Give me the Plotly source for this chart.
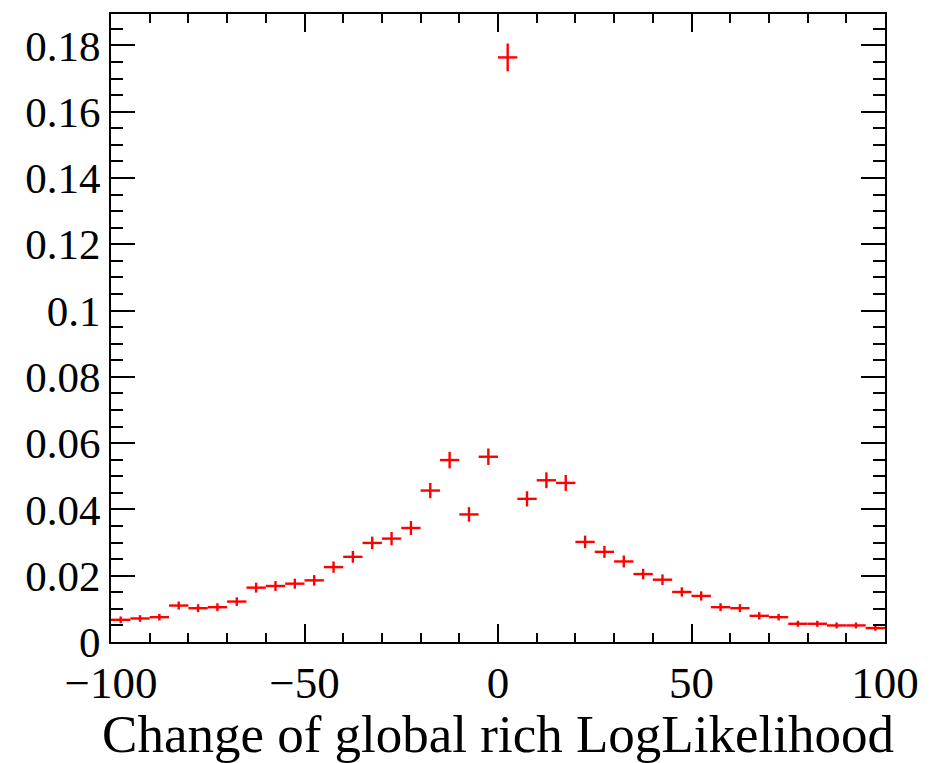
import plotly.graph_objects as go

bin_centers = [-97.5 + 5 * i for i in range(40)]
bin_half_width = [2.5] * 40
values = [0.0067, 0.0071, 0.0075, 0.0110, 0.0102, 0.0105, 0.0122, 0.0164, 0.0169, 0.0176,
          0.0186, 0.0226, 0.0257, 0.0299, 0.0312, 0.0344, 0.0457, 0.0549, 0.0385, 0.0559,
          0.1764, 0.0432, 0.0488, 0.0480, 0.0302, 0.0272, 0.0243, 0.0205, 0.0188, 0.0151,
          0.0139, 0.0105, 0.0102, 0.0079, 0.0075, 0.0055, 0.0055, 0.0050, 0.0050, 0.0042]
errors = [0.0010, 0.0010, 0.0010, 0.0012, 0.0012, 0.0012, 0.0013, 0.0015, 0.0015, 0.0015,
          0.0016, 0.0017, 0.0018, 0.0019, 0.0020, 0.0021, 0.0023, 0.0025, 0.0022, 0.0025,
          0.0042, 0.0023, 0.0024, 0.0024, 0.0019, 0.0018, 0.0018, 0.0016, 0.0016, 0.0014,
          0.0014, 0.0012, 0.0012, 0.0011, 0.0010, 0.0009, 0.0009, 0.0009, 0.0009, 0.0008]

x_title = "Change of global rich LogLikelihood"

fig = go.Figure()
fig.add_trace(go.Scatter(
    x=bin_centers, y=values, mode="markers",
    marker=dict(size=0.1, color="#ff0000"),
    error_x=dict(type="data", array=bin_half_width, symmetric=True, width=0,
                 thickness=2.4, color="#ff0000"),
    error_y=dict(type="data", array=errors, symmetric=True, width=0,
                 thickness=2.4, color="#ff0000"),
    showlegend=False,
))

font_family = "Liberation Serif"
fig.update_layout(
    width=931, height=763,
    margin=dict(l=111, r=44, t=12, b=111),
    paper_bgcolor="white", plot_bgcolor="white",
    font=dict(family=font_family, color="black"),
)
fig.update_xaxes(
    range=[-100, 100], showgrid=False, zeroline=False,
    showline=True, linewidth=2, linecolor="black", mirror="allticks",
    ticks="inside", ticklen=18, tickwidth=2, tickcolor="black",
    tick0=-100, dtick=50,
    minor=dict(dtick=10, ticks="inside", ticklen=9, tickwidth=2, tickcolor="black"),
    tickfont=dict(size=45, family=font_family),
    title=dict(text=x_title, font=dict(size=53, family=font_family), standoff=6),
)
fig.update_yaxes(
    range=[0, 0.1895], showgrid=False, zeroline=False,
    showline=True, linewidth=2, linecolor="black", mirror="allticks",
    ticks="inside", ticklen=24, tickwidth=2, tickcolor="black",
    tick0=0, dtick=0.02,
    minor=dict(dtick=0.005, ticks="inside", ticklen=12, tickwidth=2, tickcolor="black"),
    tickfont=dict(size=43, family=font_family),
)

fig.write_html("out.html")
